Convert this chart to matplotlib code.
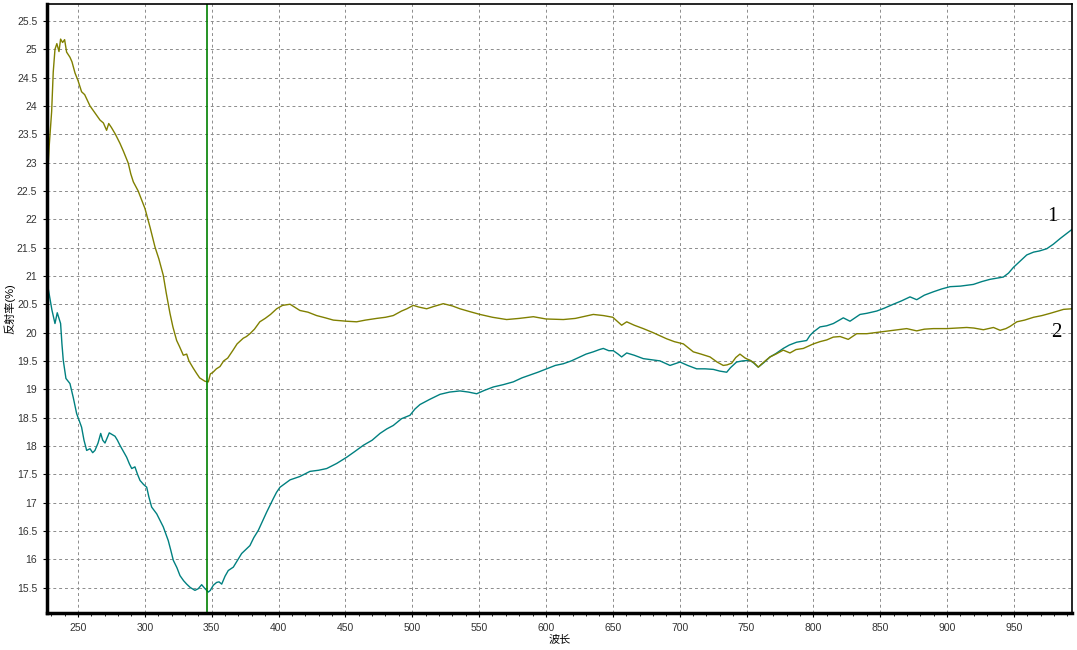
import matplotlib
matplotlib.use('Agg')
import matplotlib.pyplot as plt
from matplotlib.ticker import MultipleLocator

plt.rcParams['font.family'] = ['Liberation Sans', 'Noto Sans CJK SC', 'DejaVu Sans']

# curve 1 (teal)
wl1 = [227.5, 229, 230.5, 232.8, 234.5, 235.8, 237, 238, 239, 241, 244, 246.5, 249,
       252.7, 254.5, 256.5, 259, 261, 262.7, 265, 267, 268.5, 270.2, 273.4, 275.5,
       277.7, 279.5, 281.4, 284, 286.4, 288.5, 290.2, 292.6, 294.5, 296.4, 299,
       301.4, 303, 305.1, 308.9, 311, 313.8, 317.5, 319.5, 321.3, 324, 326.3, 329,
       331.3, 334, 337.5, 340, 342.5, 345, 347.5, 349, 351.2, 353.7, 355.5, 357.5,
       360, 362.4, 366.2, 369, 372.4, 378.6, 381.5, 384.9, 388, 391.1, 396.1, 398.5,
       401.1, 404.5, 408.6, 416, 423.5, 430, 436, 443.5, 451, 457, 463.4, 470, 475.9,
       481, 485.8, 492, 498.3, 502, 505.8, 513, 520.8, 528, 535.7, 542, 548.2, 554,
       560.7, 568, 575.6, 582, 588.1, 594, 600.5, 607, 613, 619, 625.5, 630, 635.4,
       640, 642.9, 647, 650.4, 654, 656.6, 660.4, 666, 672.8, 679, 685.3, 692.8,
       700.3, 706, 712.7, 719, 725.2, 730, 735.2, 738, 742.6, 747, 752.6, 755.5,
       758.8, 763, 767.6, 772, 777.5, 782, 787.5, 795, 797.5, 800, 805, 810, 815,
       822.4, 827.4, 834.9, 840, 847.4, 853, 859.8, 866, 872.3, 877.3, 883, 889.8,
       896, 902.2, 910, 919.7, 926, 932.2, 937, 942.1, 946, 949.6, 955, 959.6, 964.7,
       969, 974.6, 979.5, 984.6, 989, 993.4]
r1 = [20.81, 20.6, 20.4, 20.16, 20.35, 20.25, 20.16, 19.8, 19.51, 19.19, 19.1, 18.85,
      18.57, 18.33, 18.1, 17.92, 17.95, 17.88, 17.92, 18.05, 18.22, 18.1, 18.05, 18.23,
      18.2, 18.17, 18.1, 18.01, 17.9, 17.8, 17.68, 17.6, 17.63, 17.5, 17.39, 17.32,
      17.27, 17.1, 16.92, 16.8, 16.7, 16.57, 16.33, 16.15, 15.98, 15.85, 15.71, 15.62,
      15.56, 15.5, 15.45, 15.48, 15.55, 15.48, 15.42, 15.45, 15.54, 15.59, 15.6, 15.56,
      15.7, 15.8, 15.86, 15.97, 16.1, 16.24, 16.38, 16.51, 16.67, 16.83, 17.07, 17.18,
      17.27, 17.33, 17.4, 17.46, 17.55, 17.57, 17.6, 17.69, 17.8, 17.9, 18.01, 18.1,
      18.22, 18.3, 18.36, 18.48, 18.54, 18.65, 18.73, 18.82, 18.91, 18.95, 18.97,
      18.95, 18.92, 18.98, 19.04, 19.08, 19.13, 19.2, 19.25, 19.3, 19.36, 19.42, 19.45,
      19.5, 19.57, 19.62, 19.66, 19.7, 19.72, 19.68, 19.68, 19.62, 19.57, 19.64, 19.6,
      19.54, 19.52, 19.5, 19.42, 19.48, 19.42, 19.36, 19.36, 19.35, 19.32, 19.3, 19.38,
      19.48, 19.5, 19.51, 19.46, 19.39, 19.47, 19.57, 19.63, 19.72, 19.78, 19.83,
      19.86, 19.95, 20.01, 20.1, 20.12, 20.16, 20.26, 20.2, 20.32, 20.34, 20.38, 20.43,
      20.5, 20.56, 20.63, 20.58, 20.66, 20.72, 20.77, 20.81, 20.82, 20.85, 20.9, 20.94,
      20.96, 20.98, 21.05, 21.15, 21.27, 21.37, 21.42, 21.44, 21.48, 21.56, 21.66,
      21.74, 21.82]

# curve 2 (olive)
wl2 = [227.5, 228.5, 230.3, 231.5, 232.8, 234.2, 235.8, 237, 238.5, 240, 241.5, 244,
       245.5, 247.8, 250, 252.7, 255, 259, 262, 266.5, 269, 271.4, 273, 275, 278,
       281.4, 284, 287.6, 289.5, 291.4, 295, 300.1, 304, 307.6, 310.5, 313.8, 316,
       318.8, 321, 323.8, 326, 328.8, 331.3, 333, 336, 338.7, 341, 345, 347.5, 349,
       351, 353.5, 356.2, 359, 362, 366, 369, 373.6, 376, 378.6, 382, 386, 390, 394,
       398.6, 403, 408.6, 412, 416, 422, 428.5, 435, 441, 451, 458.4, 465, 473.4, 480,
       485.8, 492, 496, 500.8, 505, 510.8, 516, 523.2, 530, 535.7, 543, 550.7, 560,
       570.6, 580, 590.6, 600, 613, 622, 635.4, 643, 650, 656.6, 660.4, 666, 672.8,
       680, 690.3, 696, 702.8, 710.2, 716, 722.7, 728, 732.6, 735.5, 738.9, 742,
       745.1, 749, 752.6, 755.5, 758.8, 763, 767.6, 772, 777.5, 782.5, 787, 792.5, 800,
       805, 810, 814.9, 820, 826.1, 832.4, 840, 849.9, 860, 869.8, 877.3, 883, 889.8,
       900, 907, 914.7, 920, 927.2, 934.7, 939.7, 944, 947.2, 952.2, 958, 964.7, 971,
       977.2, 983, 987.2, 993.4]
r2 = [22.85, 23.3, 23.9, 24.6, 25.0, 25.1, 24.96, 25.18, 25.12, 25.17, 24.95, 24.86,
      24.78, 24.58, 24.45, 24.25, 24.2, 24.0, 23.9, 23.75, 23.7, 23.57, 23.69, 23.62,
      23.5, 23.34, 23.2, 22.99, 22.8, 22.66, 22.5, 22.19, 21.85, 21.51, 21.3, 21.01,
      20.7, 20.34, 20.1, 19.86, 19.75, 19.6, 19.62, 19.5, 19.38, 19.28, 19.2, 19.14,
      19.13, 19.27, 19.3, 19.36, 19.4, 19.5, 19.55, 19.69, 19.8, 19.9, 19.93, 19.98,
      20.06, 20.19, 20.25, 20.32, 20.42, 20.48, 20.5, 20.45, 20.39, 20.36, 20.3, 20.26,
      20.22, 20.2, 20.19, 20.22, 20.25, 20.27, 20.3, 20.38, 20.42, 20.48, 20.45, 20.42,
      20.46, 20.51, 20.47, 20.42, 20.37, 20.32, 20.27, 20.23, 20.25, 20.28, 20.24,
      20.23, 20.25, 20.32, 20.3, 20.27, 20.13, 20.19, 20.13, 20.07, 20.0, 19.89, 19.84,
      19.8, 19.66, 19.62, 19.57, 19.48, 19.42, 19.43, 19.46, 19.56, 19.62, 19.55,
      19.51, 19.47, 19.39, 19.48, 19.57, 19.62, 19.69, 19.64, 19.7, 19.72, 19.8, 19.84,
      19.87, 19.92, 19.93, 19.88, 19.98, 19.98, 20.01, 20.04, 20.07, 20.03, 20.06,
      20.07, 20.07, 20.08, 20.09, 20.08, 20.05, 20.09, 20.04, 20.07, 20.11, 20.19,
      20.22, 20.27, 20.3, 20.34, 20.38, 20.41, 20.42]

cursor_wl = 346.5
curve_labels = ['1', '2']
label_pos = [(978.5, 22.04), (981.5, 20.0)]

fig = plt.figure(figsize=(10.77, 6.5), dpi=100)
ax = fig.add_axes([0.0436, 0.0569, 0.9517, 0.937])

ax.plot(wl1, r1, color='#008080', lw=1.0)
ax.plot(wl2, r2, color='#808000', lw=1.0)
ax.axvline(cursor_wl, color='#008000', lw=1.2)

for s, (x, y) in zip(curve_labels, label_pos):
  ax.text(x, y, s, family='Liberation Serif', fontsize=15, ha='center',
          va='center', color='black')

ax.set_xlim(226.8, 993.4)
ax.set_ylim(15.05, 25.8)
ax.xaxis.set_major_locator(MultipleLocator(50))
ax.xaxis.set_minor_locator(MultipleLocator(10))
ax.yaxis.set_major_locator(MultipleLocator(0.5))
ax.yaxis.set_major_formatter(plt.FuncFormatter(lambda v, _: f'{v:g}'))
ax.grid(True, which='major', color='#8c8c8c', ls=(0, (3, 3)), lw=0.7)
ax.tick_params(which='major', length=3, width=0.8, labelsize=7.5,
               labelcolor='#333333', pad=4)
ax.tick_params(which='minor', length=2, width=0.6)
for side in ('left', 'bottom'):
  ax.spines[side].set_linewidth(2.5)
for side in ('top', 'right'):
  ax.spines[side].set_linewidth(1.2)

ax.set_xlabel('波长', fontsize=8, labelpad=1)
ax.set_ylabel('反射率(%)', fontsize=8, labelpad=1)

fig.savefig('out.png', dpi=100)
